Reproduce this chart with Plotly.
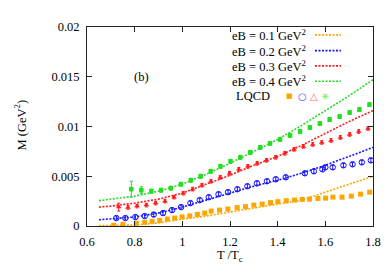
import plotly.graph_objects as go

# ---- model curves (T/Tc, M in GeV^2) ----
line_T = [0.65, 0.7, 0.8, 0.9, 1.0, 1.1, 1.2, 1.3, 1.4, 1.5, 1.6, 1.7, 1.8]
line_eB01 = [0.00003, 0.00003, 0.0001, 0.0003, 0.0007, 0.0010, 0.0014, 0.0018, 0.0022, 0.0026, 0.0034, 0.0042, 0.0050]
line_eB02 = [0.00063, 0.0007, 0.0009, 0.0013, 0.0019, 0.0026, 0.0033, 0.0040, 0.0046, 0.0053, 0.0061, 0.0070, 0.0079]
line_eB03 = [0.0019, 0.0020, 0.0023, 0.0027, 0.0033, 0.0042, 0.0051, 0.0061, 0.0070, 0.0081, 0.0093, 0.0105, 0.0116]
line_eB04 = [0.00255, 0.0027, 0.0030, 0.0035, 0.0042, 0.0052, 0.0063, 0.0075, 0.0087, 0.0101, 0.0116, 0.0131, 0.0147]

# ---- LQCD data ----
lq01_T = [0.712, 0.751, 0.807, 0.842, 0.873, 0.905, 0.937, 0.968, 0.999, 1.031, 1.063, 1.094,
          1.121, 1.156, 1.191, 1.230, 1.265, 1.300, 1.335, 1.370, 1.401, 1.436, 1.471, 1.503,
          1.534, 1.569, 1.601, 1.632, 1.670, 1.709, 1.748, 1.786]
lq01_M = [0.00007, 0.00017, 0.00027, 0.00037, 0.00047, 0.00056, 0.0007, 0.0008, 0.00092, 0.00102, 0.00116, 0.0013,
          0.0015, 0.0016, 0.0017, 0.00185, 0.00195, 0.0021, 0.0022, 0.00235, 0.00245, 0.00254, 0.0026, 0.00267,
          0.0027, 0.00277, 0.0028, 0.0029, 0.0029, 0.0030, 0.0032, 0.0034]

lq02_T = [0.723, 0.761, 0.803, 0.842, 0.880, 0.919, 0.957, 0.995, 1.034, 1.073, 1.111, 1.152, 1.192,
          1.231, 1.273, 1.313, 1.355, 1.392, 1.434, 1.514, 1.552, 1.588, 1.600, 1.631, 1.676, 1.714,
          1.753, 1.791]
lq02_M = [0.0008, 0.0008, 0.0009, 0.0010, 0.00115, 0.0013, 0.0016, 0.0019, 0.0023, 0.0026, 0.0029, 0.0032, 0.0034,
          0.0037, 0.0040, 0.0043, 0.0045, 0.0047, 0.0049, 0.0053, 0.0055, 0.0057, 0.0059, 0.0059, 0.0061, 0.0062,
          0.0064, 0.0066]
lq02_err = [0.0002] * 28

lq03_T = [0.733, 0.772, 0.810, 0.849, 0.888, 0.927, 0.965, 1.004, 1.043, 1.082, 1.120, 1.159, 1.198, 1.237,
          1.275, 1.314, 1.353, 1.392, 1.430, 1.469, 1.508, 1.547, 1.585, 1.624, 1.663, 1.702, 1.740, 1.779]
lq03_M = [0.0019, 0.00187, 0.0020, 0.0021, 0.0023, 0.0025, 0.0029, 0.0033, 0.0037, 0.0041, 0.0045, 0.0049, 0.0053, 0.0057,
          0.0060, 0.0063, 0.0066, 0.0069, 0.0073, 0.0077, 0.0080, 0.0082, 0.0084, 0.0086, 0.0089, 0.0092, 0.0095, 0.0098]
lq03_err = [0.0004] + [0.00018] * 27

lq04_T = [0.786, 0.828, 0.870, 0.911, 0.952, 0.994, 1.036, 1.077, 1.119, 1.160, 1.202, 1.243, 1.285,
          1.327, 1.368, 1.410, 1.452, 1.494, 1.535, 1.577, 1.618, 1.660, 1.702, 1.743, 1.785]
lq04_M = [0.0037, 0.0036, 0.0035, 0.0036, 0.0038, 0.0042, 0.0046, 0.0050, 0.0055, 0.0060, 0.0065, 0.0069, 0.0074,
          0.0079, 0.0083, 0.0087, 0.0091, 0.0095, 0.0099, 0.0103, 0.0107, 0.0110, 0.0114, 0.0117, 0.0122]
lq04_err = [0.0008, 0.00035] + [0.0002] * 23

x_ticks = [0.6, 0.8, 1.0, 1.2, 1.4, 1.6, 1.8]
x_labels = ["0.6", "0.8", "1", "1.2", "1.4", "1.6", "1.8"]
y_ticks = [0, 0.005, 0.01, 0.015, 0.02]
y_labels = ["0", "0.005", "0.01", "0.015", "0.02"]

legend_labels = ["eB = 0.1 GeV<sup>2</sup>", "eB = 0.2 GeV<sup>2</sup>",
                 "eB = 0.3 GeV<sup>2</sup>", "eB = 0.4 GeV<sup>2</sup>"]

C_OR = "#ffa500"
C_BL = "#1414ff"
C_RD = "#ff1a1a"
C_GR = "#22dd22"
colors = [C_OR, C_BL, C_RD, C_GR]
DASH = "2px,1.5px"
FONT = "Times New Roman"

fig = go.Figure()

for ys, c in zip([line_eB01, line_eB02, line_eB03, line_eB04], colors):
    fig.add_trace(go.Scatter(x=line_T, y=ys, mode="lines",
                             line=dict(color=c, width=1.6, dash=DASH), showlegend=False))

fig.add_trace(go.Scatter(x=lq01_T, y=lq01_M, mode="markers",
                         marker=dict(symbol="square", size=5, color=C_OR), showlegend=False))
fig.add_trace(go.Scatter(x=lq02_T, y=lq02_M, mode="markers",
                         marker=dict(symbol="circle-open", size=5.5, color=C_BL, line=dict(width=1)),
                         error_y=dict(type="data", array=lq02_err, color=C_BL, thickness=1, width=1.5),
                         showlegend=False))
fig.add_trace(go.Scatter(x=lq03_T, y=lq03_M, mode="markers",
                         marker=dict(symbol="triangle-up", size=5, color=C_RD),
                         error_y=dict(type="data", array=lq03_err, color=C_RD, thickness=1, width=1.5),
                         showlegend=False))
fig.add_trace(go.Scatter(x=lq04_T, y=lq04_M, mode="markers",
                         marker=dict(symbol="square", size=4.5, color=C_GR),
                         error_y=dict(type="data", array=lq04_err, color=C_GR, thickness=1, width=1.5),
                         showlegend=False))

# plot-area geometry in pixels (for legend placement)
L, R, T, B = 79, 365, 16, 218
def px(xp):
    return (xp - L) / (R - L)
def py(yp):
    return (B - yp) / (B - T)

annotations = []
shapes = []
row_y = [24, 40, 55.5, 71, 86.5]
for lab, c, ry in zip(legend_labels, colors, row_y):
    annotations.append(dict(x=px(300), y=py(ry), xref="paper", yref="paper", text=lab,
                            showarrow=False, xanchor="right", yanchor="middle",
                            font=dict(family=FONT, size=12.5, color="#000")))
    shapes.append(dict(type="line", xref="paper", yref="paper", x0=px(307), x1=px(333),
                       y0=py(ry), y1=py(ry), line=dict(color=c, width=1.6, dash=DASH)))
annotations.append(dict(x=px(226), y=py(row_y[4]), xref="paper", yref="paper", text="LQCD",
                        showarrow=False, xanchor="left", yanchor="middle",
                        font=dict(family=FONT, size=12.5, color="#000")))
sym = [("■", C_OR, 281.5, 7), ("○", "#4a4aff", 294, 10), ("△", "#ff7070", 305.5, 10), ("✳", "#66ee66", 316.5, 10)]
for s, c, xx, sz in sym:
    annotations.append(dict(x=px(xx), y=py(row_y[4]), xref="paper", yref="paper", text=s,
                            showarrow=False, xanchor="center", yanchor="middle",
                            font=dict(family="DejaVu Sans", size=sz, color=c)))

annotations.append(dict(x=px(133), y=py(67), xref="paper", yref="paper", text="(b)",
                        showarrow=False, xanchor="center", yanchor="middle",
                        font=dict(family=FONT, size=12.5, color="#000")))
annotations.append(dict(x=px(12), y=py(116), xref="paper", yref="paper", text="M (GeV<sup>2</sup>)",
                        showarrow=False, xanchor="center", yanchor="middle", textangle=-90,
                        font=dict(family=FONT, size=12.5, color="#000")))
annotations.append(dict(x=px(222), y=py(248), xref="paper", yref="paper", text="T /T<sub>c</sub>",
                        showarrow=False, xanchor="center", yanchor="middle",
                        font=dict(family=FONT, size=12.5, color="#000")))

axis_common = dict(showline=True, linecolor="#222", linewidth=1, mirror="ticks",
                   ticks="inside", ticklen=5, tickcolor="#222", showgrid=False, zeroline=False,
                   tickfont=dict(family=FONT, size=12.5, color="#000"))

fig.update_layout(
    width=389, height=273, autosize=False,
    margin=dict(l=L, r=389 - R, t=T, b=273 - B),
    paper_bgcolor="white", plot_bgcolor="white",
    xaxis=dict(range=[0.6, 1.8], tickvals=x_ticks, ticktext=x_labels, ticklabelstandoff=4, **axis_common),
    yaxis=dict(range=[0, 0.02], tickvals=y_ticks, ticktext=y_labels, ticklabelstandoff=4, **axis_common),
    annotations=annotations, shapes=shapes, showlegend=False,
)

fig.write_html("out.html")
